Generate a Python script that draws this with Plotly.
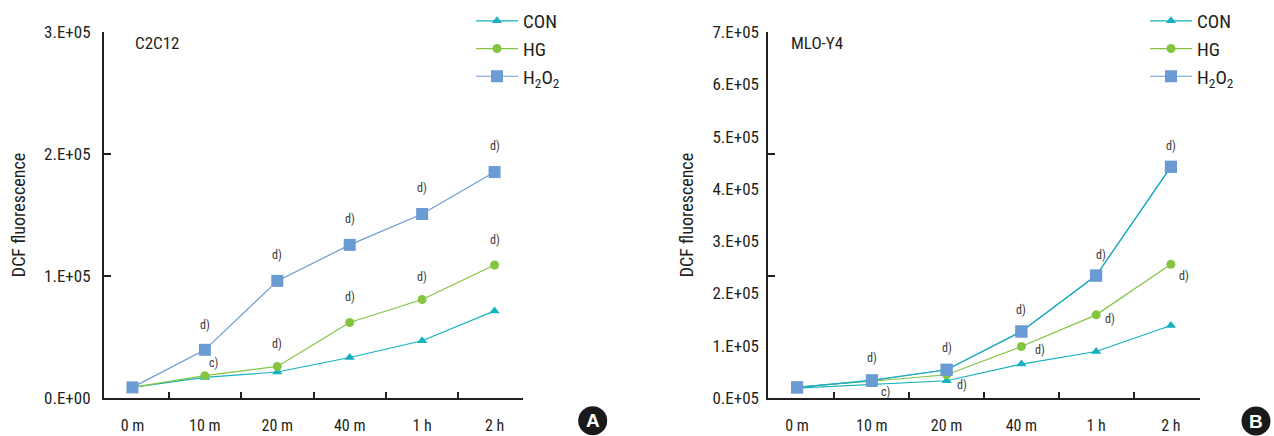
import plotly.graph_objects as go

# ---------------- data ----------------
times = ["0 m", "10 m", "20 m", "40 m", "1 h", "2 h"]

c2c12_con = [8.7e3, 16.9e3, 21.3e3, 33.2e3, 46.9e3, 71.4e3]
c2c12_hg = [8.7e3, 18.3e3, 25.9e3, 61.9e3, 80.7e3, 109.0e3]
c2c12_h2o2 = [8.7e3, 39.5e3, 96.0e3, 125.5e3, 150.8e3, 185.2e3]

mlo_con = [19.0e3, 25.4e3, 33.0e3, 64.9e3, 89.0e3, 138.6e3]
mlo_hg = [21.0e3, 32.0e3, 44.5e3, 98.5e3, 159.0e3, 255.9e3]
mlo_h2o2 = [20.2e3, 33.6e3, 54.0e3, 127.2e3, 234.1e3, 442.2e3]

c2c12_yticks = [0, 1e5, 2e5, 3e5]
c2c12_ylabels = ["0.E+00", "1.E+05", "2.E+05", "3.E+05"]
mlo_yticks = [0, 1e5, 2e5, 3e5, 4e5, 5e5, 6e5, 7e5]
mlo_ylabels = ["0.E+05", "1.E+05", "2.E+05", "3.E+05", "4.E+05", "5.E+05", "6.E+05", "7.E+05"]
mlo_ymax = 7e5
mlo_tickmarks = [0, mlo_ymax / 3, 2 * mlo_ymax / 3, mlo_ymax]

series_names = ["CON", "HG", "H<sub>2</sub>O<sub>2</sub>"]

# significance marks: (series, time index, text, x offset px, y offset px)
c2c12_sig = [
    ("h2o2", 1, "d)", 0, 25), ("hg", 1, "c)", 9, 13),
    ("h2o2", 2, "d)", 0, 26), ("hg", 2, "d)", 0, 22),
    ("h2o2", 3, "d)", 0, 26), ("hg", 3, "d)", 0, 25),
    ("h2o2", 4, "d)", 0, 26), ("hg", 4, "d)", 0, 23),
    ("h2o2", 5, "d)", 0, 26), ("hg", 5, "d)", 0, 25),
]
mlo_sig = [
    ("h2o2", 1, "d)", 0, 22), ("con", 1, "c)", 14, -7),
    ("h2o2", 2, "d)", 0, 22), ("con", 2, "d)", 15, -4),
    ("h2o2", 3, "d)", 0, 21), ("hg", 3, "d)", 19, -3),
    ("h2o2", 4, "d)", 5, 21), ("hg", 4, "d)", 14, -4),
    ("h2o2", 5, "d)", 0, 21), ("hg", 5, "d)", 13, -12),
]

# ---------------- style ----------------
FONT = "Liberation Sans Narrow, Arial Narrow, Roboto Condensed, Roboto, sans-serif"
TXT = "#231f20"
C_CON = "#14b2bd"
C_HG = "#85c441"
C_H2O2 = "#6b9bd3"
W, H = 1274, 436

fig = go.Figure()


def add_panel(xa, ya, legend, con, hg, h2o2, h2o2_line, top_ya):
    fig.add_trace(go.Scatter(
        x=times, y=con, name=series_names[0], mode="lines+markers",
        line=dict(color=C_CON, width=1.2),
        marker=dict(symbol="triangle-up", size=9, color=C_CON),
        xaxis=xa, yaxis=ya, legend=legend))
    fig.add_trace(go.Scatter(
        x=times, y=hg, name=series_names[1], mode="lines+markers",
        line=dict(color=C_HG, width=1.2),
        marker=dict(symbol="circle", size=9, color=C_HG),
        xaxis=xa, yaxis=ya, legend=legend))
    fig.add_trace(go.Scatter(
        x=times, y=h2o2, name=series_names[2], mode="lines+markers",
        line=dict(color=C_H2O2, width=1.2),
        marker=dict(symbol="square", size=12, color=C_H2O2),
        xaxis=xa, yaxis=ya, legend=legend))
    if h2o2_line != C_H2O2:
        # connecting line drawn in a different colour, markers redrawn on top
        fig.add_trace(go.Scatter(
            x=times, y=h2o2, mode="lines", showlegend=False,
            line=dict(color=h2o2_line, width=1.2),
            xaxis=xa, yaxis=top_ya, legend=legend))
        fig.add_trace(go.Scatter(
            x=times, y=h2o2, mode="markers", showlegend=False,
            marker=dict(symbol="square", size=12, color=C_H2O2),
            xaxis=xa, yaxis=top_ya, legend=legend))


add_panel("x", "y", "legend", c2c12_con, c2c12_hg, c2c12_h2o2, C_H2O2, "y")
add_panel("x2", "y2", "legend2", mlo_con, mlo_hg, mlo_h2o2, C_CON, "y3")

lookup = {
    "x": {"con": c2c12_con, "hg": c2c12_hg, "h2o2": c2c12_h2o2},
    "x2": {"con": mlo_con, "hg": mlo_hg, "h2o2": mlo_h2o2},
}
annotations = []
for xa, ya, sig in (("x", "y", c2c12_sig), ("x2", "y2", mlo_sig)):
    for s, i, t, dx, dy in sig:
        annotations.append(dict(
            x=times[i], y=lookup[xa][s][i], xref=xa, yref=ya, text=t,
            showarrow=False, xshift=dx, yshift=dy,
            font=dict(family=FONT, size=12, color="#3a3a3a")))

# panel names
annotations.append(dict(x=133 / W, y=1 - 43 / H, xref="paper", yref="paper",
                        text="C2C12", showarrow=False, xanchor="left", yanchor="middle",
                        font=dict(family=FONT, size=17, color=TXT)))
annotations.append(dict(x=789 / W, y=1 - 43 / H, xref="paper", yref="paper",
                        text="MLO-Y4", showarrow=False, xanchor="left", yanchor="middle",
                        font=dict(family=FONT, size=17, color=TXT)))

# badges A / B
shapes = []
for cx, cy, letter in ((592.7, 420.7, "A"), (1256, 421, "B")):
    shapes.append(dict(type="circle", xref="paper", yref="paper",
                       xsizemode="pixel", ysizemode="pixel",
                       xanchor=cx / W, yanchor=1 - cy / H,
                       x0=-14.5, x1=14.5, y0=-14.5, y1=14.5,
                       fillcolor="#1a1a1a", line=dict(width=0)))
    annotations.append(dict(x=cx / W, y=1 - cy / H, xref="paper", yref="paper",
                            text="<b>%s</b>" % letter, showarrow=False,
                            xanchor="center", yanchor="middle",
                            font=dict(family="Liberation Sans, Arial, sans-serif",
                                      size=19, color="white")))

xcommon = dict(
    type="category", showline=True, linecolor=TXT, linewidth=2,
    ticks="inside", ticklen=6, tickwidth=1.5, tickcolor=TXT, tickson="boundaries",
    showgrid=False, zeroline=False, ticklabelstandoff=12, automargin=False,
    tickfont=dict(family=FONT, size=16, color=TXT), fixedrange=True)
ycommon = dict(
    showgrid=False, zeroline=False,
    tickfont=dict(family=FONT, size=17, color=TXT), ticklabelstandoff=8,
    automargin=False)
ytitle = dict(text="DCF fluorescence", font=dict(family=FONT, size=18, color=TXT),
              standoff=14)

yd = [38 / H, 1 - 32 / H]
fig.update_layout(
    width=W, height=H,
    margin=dict(l=0, r=0, t=0, b=0, autoexpand=False),
    paper_bgcolor="white", plot_bgcolor="white",
    font=dict(family=FONT, color=TXT),
    xaxis=dict(domain=[104 / W, 523 / W], anchor="y", **xcommon),
    yaxis=dict(domain=yd, anchor="x", range=[0, 3e5], tickvals=c2c12_yticks,
               ticktext=c2c12_ylabels, ticks="inside", ticklen=7, tickwidth=1.5,
               tickcolor=TXT, showline=True, linecolor=TXT, linewidth=2,
               title=ytitle, **ycommon),
    xaxis2=dict(domain=[768 / W, 1200 / W], anchor="y2", **xcommon),
    # tick marks of the right panel (three equal intervals, no labels)
    yaxis2=dict(domain=yd, anchor="x2", range=[0, mlo_ymax], tickvals=mlo_tickmarks,
                ticktext=[""] * len(mlo_tickmarks), ticks="inside", ticklen=7,
                tickwidth=1.5, tickcolor=TXT, showline=True, linecolor=TXT,
                linewidth=2, **ycommon),
    # labels of the right panel (eight evenly spaced labels)
    yaxis3=dict(overlaying="y2", anchor="x2", side="left", range=[0, mlo_ymax],
                tickvals=mlo_yticks, ticktext=mlo_ylabels, ticks="", showline=False,
                title=ytitle, **ycommon),
    legend=dict(x=471 / W, y=1 - 2 / H, xanchor="left", yanchor="top",
                itemwidth=42, font=dict(family=FONT, size=19, color=TXT),
                bgcolor="rgba(0,0,0,0)"),
    legend2=dict(x=1145 / W, y=1 - 2 / H, xanchor="left", yanchor="top",
                 itemwidth=42, font=dict(family=FONT, size=19, color=TXT),
                 bgcolor="rgba(0,0,0,0)"),
    annotations=annotations,
    shapes=shapes,
)

fig.write_html("out.html", config={"displayModeBar": False},
               post_script="document.body.style.margin='0';document.body.style.overflow='hidden';")
